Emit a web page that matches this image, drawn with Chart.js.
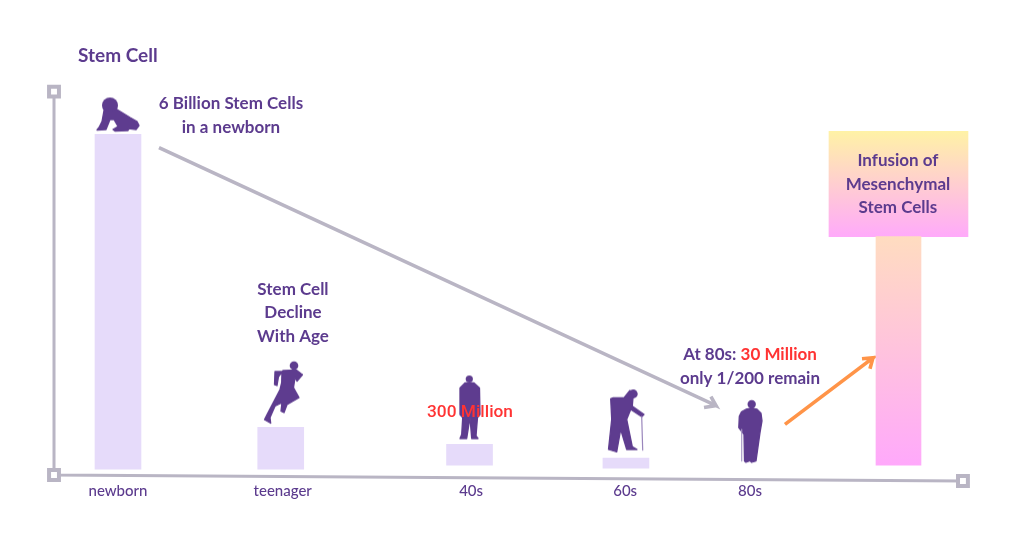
<!DOCTYPE html>
<html><head><meta charset="utf-8">
<style>html,body{margin:0;padding:0;background:#fff}#w{width:1024px;height:536px}</style>
<script src="https://cdn.jsdelivr.net/npm/chart.js@4/dist/chart.umd.min.js"></script>
</head><body><div id="w"><canvas id="c" width="1024" height="536"></canvas></div>
<script>
// ---- data (millions of stem cells against an age-like position) ----
const categories = ['newborn','teenager','40s','60s','80s'];
const categoryAges = [0,20.85,44.7,64.2,80];
const barAges  = [0,20.6,44.5,64.3];
const barBases = [0,0,71,18];
const barTops  = [6000,750,445,196];
const infusionAge = 98.8;
const infusionStem = [71,4167];
const infusionBox  = [4167,6053];
const axisAges   = [-8.1,-8.1,106.96];
const axisValues = [6765,-107,-214];
const declineAges   = [5.19,75.7,75.06,75.7,74.18];
const declineValues = [5760,1139,1300,1139,1104];
const boostAges   = [84.43,95.57,94.18,95.57,95.19];
const boostValues = [801,1994,1976,1994,1798];
const figureAges   = [0,21.01,44.68,64.43,80];
const figureValues = [6338,1389,1113,872,677];
const noteTexts  = ['6 Billion Stem Cells','in a newborn','Stem Cell','Decline','With Age','300 Million','only 1/200 remain','Infusion of','Mesenchymal','Stem Cells'];
const noteAges   = [14.3,14.3,22.15,22.15,22.15,44.56,80,98.73,98.73,98.73];
const noteValues = [6552,6124,3222,2813,2368,1005,1620,5537,5109,4682];
const noteRed    = [false,false,false,false,false,true,false,false,false,false];
const mixedNote = {age:80, value:2050, parts:['At 80s: ','30 Million']};

const PURPLE='#5E3C8F', TEXT='#5C3B8E', RED='#FF3333', GREY='#B9B5C4', ORANGE='#FF9448', LILAC='#E6DBFA';
const NOTE_FONT='700 17px Lato';

function poly(g,pts){g.beginPath();pts.forEach((p,i)=>i?g.lineTo(p[0],p[1]):g.moveTo(p[0],p[1]));g.closePath();g.fill();g.stroke();}
function head(g,x,y,r){g.beginPath();g.arc(x,y,r,0,Math.PI*2);g.fill();}
function icon(x0,y0,w,h,draw){
  const c=document.createElement('canvas');c.width=w;c.height=h;
  const g=c.getContext('2d');g.translate(-x0,-y0);g.fillStyle=PURPLE;g.strokeStyle=PURPLE;g.lineWidth=1.3;g.lineJoin='round';g.lineCap='round';
  draw(g);return c;
}
const figures=[
 icon(94,94,48,40,g=>{
  head(g,110,104,8);
  poly(g,[[104,109],[117,108],[130,116],[137,120],[139,124],[136,128],[129,127],[128,129],[115,129.5],[113,128],[118,125],[114,118],[110,118],[106,128],[97,128.5],[99,126],[102,120]]);
 }),
 icon(262,358,44,68,g=>{
  head(g,294,366,4.3);
  poly(g,[[275,372],[274.5,385],[277,386],[278.5,377],[283,371],[296.5,370.5],[301,374],[302.5,375],[297,381.5],[295,378],[293.5,388],[299,398],[287,405],[284,413],[281,411.5],[282,403],[275,406.5],[270,418],[270.7,423.5],[264.5,420],[267,415],[280,390],[281.7,383],[282,372]]);
 }),
 icon(458,374,26,67,g=>{
  head(g,469.3,379.5,3.6);
  poly(g,[[465,383.5],[474,383.5],[479.5,388.5],[480,415],[477.5,418],[476,436.5],[478,439],[471.7,439],[470,418],[466.7,439],[460,439],[461.7,435],[462.7,418],[460,415],[460,388.5]]);
 }),
 icon(606,388,42,66,g=>{
  head(g,633.3,394.5,4.4);
  poly(g,[[630,391],[624,398.3],[613.3,398.3],[610.7,399.3],[611.7,420],[608.5,450],[616.7,452.5],[620.7,430],[626.7,450],[637,450],[632.3,447.3],[626.7,420],[630.7,410],[641.7,417.3],[644,415],[632.3,406.7],[633,398]]);
  g.strokeStyle='#9A86BC';g.lineWidth=1.2;g.beginPath();g.moveTo(641.7,417);g.lineTo(642.7,450.7);g.stroke();
 }),
 icon(736,399,28,66,g=>{
  head(g,751.7,405,4.2);
  poly(g,[[746,410],[751.7,409],[757,410],[761,414],[762,421.7],[760,433.3],[756,461.7],[751.7,463],[750,461.5],[746,463],[744.5,461.7],[744,435],[738.8,428.3],[739.3,417],[741.5,412.5]]);
  g.strokeStyle='#A99AC6';g.lineWidth=1.2;g.beginPath();g.moveTo(741.7,430);g.lineTo(741.7,461.7);g.stroke();
 })
];

function vGrad(ctx,a,b,c0,c1){
  const s=ctx.chart.scales.y; if(!s) return c1;
  const top=s.getPixelForValue(b), bottom=s.getPixelForValue(a);
  if(!Number.isFinite(top)||!Number.isFinite(bottom)) return c1;
  const gr=ctx.chart.ctx.createLinearGradient(0,top,0,bottom);
  gr.addColorStop(0,c0);gr.addColorStop(1,c1);return gr;
}
const zip=(xs,ys)=>xs.map((x,i)=>({x,y:ys[i]}));

const notesPlugin={id:'notes',
 afterLayout(chart){ if(chart.titleBlock) chart.titleBlock.left=78; },
 afterDatasetsDraw(chart){
  const {ctx,scales:{x,y}}=chart;
  ctx.save();ctx.textBaseline='middle';ctx.textAlign='center';
  noteTexts.forEach((t,i)=>{
    const red=noteRed[i];
    ctx.font=red?'500 17.3px Roboto':NOTE_FONT;
    ctx.fillStyle=red?RED:TEXT;
    ctx.fillText(t,x.getPixelForValue(noteAges[i]),y.getPixelForValue(noteValues[i]));
  });
  ctx.font=NOTE_FONT;ctx.textAlign='left';
  const [a,b]=mixedNote.parts,wa=ctx.measureText(a).width,wb=ctx.measureText(b).width;
  const cx=x.getPixelForValue(mixedNote.age),py=y.getPixelForValue(mixedNote.value),sx=cx-(wa+wb)/2;
  ctx.fillStyle=TEXT;ctx.fillText(a,sx,py);
  ctx.fillStyle=RED;ctx.fillText(b,sx+wa,py);
  ctx.restore();
}};

new Chart(document.getElementById('c'),{
  type:'bar',
  plugins:[notesPlugin],
  data:{datasets:[
    {type:'line',label:'axes',data:zip(axisAges,axisValues),borderColor:GREY,borderWidth:3,pointStyle:'rect',pointRadius:7,pointBorderWidth:4,pointBorderColor:GREY,pointBackgroundColor:'#fff',tension:0,clip:false,order:5},
    {type:'line',label:'decline',data:zip(declineAges,declineValues),borderColor:GREY,borderWidth:3.6,pointRadius:0,tension:0,clip:false,order:4},
    {type:'line',label:'infusion arrow',data:zip(boostAges,boostValues),borderColor:ORANGE,borderWidth:3.6,pointRadius:0,tension:0,clip:false,order:4},
    {type:'bar',label:'stem cells',data:barAges.map((x,i)=>({x,y:[barBases[i],barTops[i]]})),backgroundColor:LILAC,barThickness:46,order:3},
    {type:'bar',label:'infusion',data:[{x:infusionAge,y:infusionStem}],
      backgroundColor:c=>vGrad(c,infusionStem[0],infusionStem[1],'#FFDCC0','#FFA9FB'),barThickness:45,order:2},
    {type:'bar',label:'infusion box',data:[{x:infusionAge,y:infusionBox}],
      backgroundColor:c=>vGrad(c,infusionBox[0],infusionBox[1],'#FFF2A6','#FFAAFA'),barThickness:139,order:2},
    {type:'scatter',label:'figures',data:zip(figureAges,figureValues),showLine:false,pointStyle:figures,pointRadius:10,clip:false,order:1}
  ]},
  options:{
    responsive:false,animation:false,
    layout:{padding:{left:40,right:24,top:44,bottom:33}},
    datasets:{bar:{grouped:false}},
    plugins:{
      legend:{display:false},tooltip:{enabled:false},
      title:{display:true,text:'Stem Cell',align:'start',color:TEXT,font:{family:'Lato',size:19,weight:'700'},padding:0}
    },
    scales:{
      x:{type:'linear',offset:false,min:-9.873,max:111.65,
        grid:{display:false,drawTicks:false},border:{display:false},
        afterBuildTicks(a){a.ticks=categoryAges.map(value=>({value}));},
        ticks:{autoSkip:false,maxRotation:0,padding:3,color:TEXT,font:{family:'Lato',size:15,weight:'500'},
          callback:v=>categories[categoryAges.indexOf(v)]??''}},
      y:{type:'linear',display:false,min:-178,max:7210,grid:{display:false}}
    }
  }
});
</script></body></html>
